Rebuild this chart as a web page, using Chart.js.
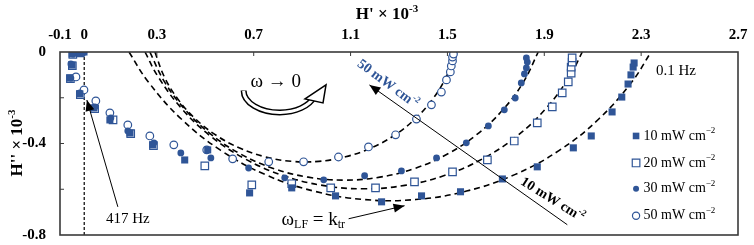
<!DOCTYPE html>
<html>
<head>
<meta charset="utf-8">
<script src="https://cdn.jsdelivr.net/npm/chart.js@4.4.1/dist/chart.umd.min.js"></script>
<style>
  html, body { margin: 0; padding: 0; background: #fff; }
  #wrap { width: 754px; height: 245px; }
</style>
</head>
<body>
<div id="wrap"><canvas id="chart"></canvas></div>
<script>
// tick values along both axes
const xTicks = [-0.1, 0, 0.3, 0.7, 1.1, 1.5, 1.9, 2.3, 2.7];
const yTicks = [0, -0.2, -0.4, -0.6, -0.8];
const yTickLabels = ['0', '', '-0.4', '', '-0.8'];

const seriesNames = ['10 mW cm', '20 mW cm', '30 mW cm', '50 mW cm'];

// measured points (H', H'') x 10^-3
const x10 = [-0.05, -0.018, -0.001, -0.05, -0.059, -0.018, 0.04, 0.106, 0.189, 0.283, 0.415, 0.51, 0.683, 0.857, 1.038, 1.228, 1.393, 1.554, 1.727, 1.871, 2.02, 2.094, 2.18, 2.22, 2.246, 2.258, 2.267, 2.271];
const y10 = [-0.009, -0.004, 0, -0.057, -0.114, -0.183, -0.245, -0.297, -0.354, -0.406, -0.472, -0.428, -0.616, -0.594, -0.629, -0.655, -0.629, -0.611, -0.555, -0.502, -0.419, -0.367, -0.262, -0.197, -0.14, -0.1, -0.066, -0.048];

const x20 = [-0.047, -0.016, -0.049, -0.057, -0.016, 0.043, 0.119, 0.192, 0.286, 0.498, 0.692, 0.857, 1.018, 1.203, 1.364, 1.521, 1.665, 1.776, 1.871, 1.933, 1.974, 1.999, 2.011, 2.011, 2.015, 2.015];
const y20 = [-0.011, -0.004, -0.06, -0.116, -0.186, -0.248, -0.297, -0.357, -0.409, -0.498, -0.581, -0.576, -0.594, -0.594, -0.568, -0.524, -0.472, -0.389, -0.31, -0.24, -0.179, -0.131, -0.092, -0.066, -0.044, -0.026];

const x30 = [-0.046, -0.009, -0.055, -0.055, -0.018, 0.044, 0.11, 0.18, 0.288, 0.399, 0.523, 0.679, 0.828, 0.989, 1.158, 1.31, 1.455, 1.578, 1.669, 1.735, 1.78, 1.805, 1.818, 1.826, 1.83, 1.826];
const y30 = [-0.009, 0, -0.052, -0.114, -0.179, -0.24, -0.288, -0.345, -0.397, -0.441, -0.463, -0.507, -0.55, -0.559, -0.541, -0.52, -0.463, -0.397, -0.323, -0.253, -0.201, -0.135, -0.096, -0.07, -0.044, -0.026];

const x50 = [-0.005, -0.034, -0.001, 0.048, 0.106, 0.18, 0.271, 0.37, 0.506, 0.613, 0.762, 0.906, 1.05, 1.174, 1.286, 1.372, 1.434, 1.475, 1.496, 1.512, 1.516, 1.521, 1.521, 1.525];
const y50 = [0, -0.109, -0.166, -0.214, -0.266, -0.319, -0.367, -0.406, -0.428, -0.467, -0.48, -0.48, -0.459, -0.415, -0.362, -0.293, -0.231, -0.175, -0.122, -0.087, -0.061, -0.039, -0.022, -0.009];

// dashed low-frequency arcs
const fitX10 = [0.185, 0.264, 0.401, 0.564, 0.748, 0.948, 1.157, 1.369, 1.579, 1.778, 1.962, 2.125, 2.262, 2.341];
const fitY10 = [0, -0.13, -0.293, -0.43, -0.536, -0.608, -0.645, -0.645, -0.608, -0.536, -0.43, -0.293, -0.13, 0];
const fitX20 = [0.251, 0.305, 0.403, 0.523, 0.664, 0.819, 0.984, 1.154, 1.324, 1.49, 1.645, 1.785, 1.906, 2.004, 2.057];
const fitY20 = [0, -0.108, -0.248, -0.369, -0.467, -0.539, -0.583, -0.598, -0.583, -0.539, -0.467, -0.369, -0.248, -0.108, 0];
const fitX30 = [0.271, 0.333, 0.419, 0.524, 0.646, 0.781, 0.925, 1.073, 1.221, 1.365, 1.5, 1.622, 1.727, 1.813, 1.875];
const fitY30 = [0, -0.133, -0.255, -0.36, -0.446, -0.509, -0.547, -0.56, -0.547, -0.509, -0.446, -0.36, -0.255, -0.133, 0];
const fitX50 = [0.292, 0.331, 0.387, 0.459, 0.545, 0.642, 0.747, 0.857, 0.969, 1.079, 1.184, 1.281, 1.367, 1.439, 1.495, 1.534];
const fitY50 = [0, -0.109, -0.206, -0.292, -0.364, -0.42, -0.458, -0.478, -0.478, -0.458, -0.42, -0.364, -0.292, -0.206, -0.109, 0];

const blue = '#2f5597';
const serif = "'Liberation Serif', 'Times New Roman', serif";

const pts = (xs, ys) => xs.map((x, i) => ({ x: x, y: ys[i] }));

const pointSets = [
  { label: seriesNames[0], data: pts(x10, y10), pointStyle: 'rect', pointRadius: 5, backgroundColor: blue, borderColor: blue, pointBorderWidth: 0, order: 1 },
  { label: seriesNames[1], data: pts(x20, y20), pointStyle: 'rect', pointRadius: 5.3, backgroundColor: '#fff', borderColor: blue, pointBorderWidth: 1.2, order: 4 },
  { label: seriesNames[2], data: pts(x30, y30), pointStyle: 'circle', pointRadius: 3.4, backgroundColor: blue, borderColor: blue, pointBorderWidth: 0, order: 2 },
  { label: seriesNames[3], data: pts(x50, y50), pointStyle: 'circle', pointRadius: 3.8, backgroundColor: '#fff', borderColor: blue, pointBorderWidth: 1.2, order: 3 }
];

const fitSets = [[fitX10, fitY10], [fitX20, fitY20], [fitX30, fitY30], [fitX50, fitY50]].map((f) => ({
  data: pts(f[0], f[1]),
  showLine: true,
  borderColor: '#000',
  borderWidth: 1.6,
  borderDash: [6, 4],
  pointRadius: 0,
  tension: 0.4,
  order: 10
}));

// text with a raised (or lowered) small part, left aligned, returns end x
function drawParts(ctx, x, y, parts) {
  parts.forEach((p) => {
    ctx.font = p.font;
    ctx.fillText(p.text, x, y + (p.dy || 0));
    x += ctx.measureText(p.text).width;
  });
  return x;
}
function partsWidth(ctx, parts) {
  let w = 0;
  parts.forEach((p) => { ctx.font = p.font; w += ctx.measureText(p.text).width; });
  return w;
}
function arrowHead(ctx, x1, y1, x2, y2, len, wid) {
  const a = Math.atan2(y2 - y1, x2 - x1);
  const c = Math.cos(a), s = Math.sin(a);
  ctx.beginPath();
  ctx.moveTo(x2, y2);
  ctx.lineTo(x2 - len * c + wid * s, y2 - len * s - wid * c);
  ctx.lineTo(x2 - len * c - wid * s, y2 - len * s + wid * c);
  ctx.closePath();
  ctx.fill();
}

const extras = {
  id: 'extras',
  beforeDatasetsDraw(chart) {
    const ctx = chart.ctx, area = chart.chartArea;
    const X = chart.scales.x;
    ctx.save();
    // dashed line at H' = 0
    ctx.strokeStyle = '#000';
    ctx.lineWidth = 1.2;
    ctx.setLineDash([3, 2]);
    ctx.beginPath();
    ctx.moveTo(X.getPixelForValue(0), area.top);
    ctx.lineTo(X.getPixelForValue(0), area.bottom);
    ctx.stroke();
    ctx.restore();
  },
  afterDraw(chart) {
    const ctx = chart.ctx, area = chart.chartArea;
    const X = chart.scales.x, Y = chart.scales.y;
    const px = (v) => X.getPixelForValue(v);
    const py = (v) => Y.getPixelForValue(v);
    ctx.save();

    // frame
    ctx.strokeStyle = '#3a3a3a';
    ctx.lineWidth = 1.6;
    ctx.strokeRect(area.left, area.top, area.right - area.left, area.bottom - area.top);
    ctx.lineWidth = 1;
    ctx.beginPath();
    xTicks.forEach((t) => {
      if (t <= X.min || t >= X.max || t === 0) return;
      ctx.moveTo(px(t), area.top);
      ctx.lineTo(px(t), area.top + 4);
    });
    yTicks.forEach((t) => {
      if (t <= Y.min || t >= Y.max) return;
      ctx.moveTo(area.left, py(t));
      ctx.lineTo(area.left + 4, py(t));
    });
    ctx.stroke();

    ctx.fillStyle = '#000';
    ctx.textBaseline = 'middle';
    ctx.textAlign = 'left';

    // axis titles
    const bold17 = 'bold 17px ' + serif, bold11 = 'bold 11px ' + serif;
    const xt = [{ text: "H' \u00d7 10", font: bold17 }, { text: '-3', font: bold11, dy: -6 }];
    drawParts(ctx, (area.left + area.right) / 2 - 12 - partsWidth(ctx, xt) / 2, 15, xt);
    const yt = [{ text: "H'' \u00d7 10", font: bold17 }, { text: '-3', font: bold11, dy: -6 }];
    ctx.save();
    ctx.translate(18, 143);
    ctx.rotate(-Math.PI / 2);
    drawParts(ctx, -partsWidth(ctx, yt) / 2, 0, yt);
    ctx.restore();

    // omega -> 0 with hollow curved arrow
    ctx.font = '19px ' + serif;
    ctx.textAlign = 'center';
    ctx.fillText('\u03c9 \u2192 0', px(0.791), py(-0.131));
    ctx.textAlign = 'left';
    const cx = px(0.807), cy = py(-0.168);
    ctx.lineCap = 'butt';
    ctx.strokeStyle = '#000';
    ctx.lineWidth = 6;
    ctx.beginPath();
    ctx.ellipse(cx, cy, 36, 22, 0, Math.PI, 0.3, true);
    ctx.stroke();
    ctx.strokeStyle = '#fff';
    ctx.lineWidth = 3;
    ctx.beginPath();
    ctx.ellipse(cx, cy, 36, 22, 0, Math.PI - 0.02, 0.28, true);
    ctx.stroke();
    // hollow head
    const hx = cx + 36 * Math.cos(0.3), hy = cy + 22 * Math.sin(0.3);
    ctx.beginPath();
    ctx.moveTo(hx - 9, hy + 2);
    ctx.lineTo(hx + 12, hy - 12);
    ctx.lineTo(hx + 9, hy + 6);
    ctx.closePath();
    ctx.fillStyle = '#fff';
    ctx.fill();
    ctx.strokeStyle = '#000';
    ctx.lineWidth = 1.5;
    ctx.stroke();
    ctx.fillStyle = '#000';

    // long arrow between 10 and 50 mW arcs
    const ax1 = px(1.995), ay1 = py(-0.755), ax2 = px(1.178), ay2 = py(-0.144);
    ctx.lineWidth = 1;
    ctx.beginPath();
    ctx.moveTo(ax1, ay1);
    ctx.lineTo(ax2, ay2);
    ctx.stroke();
    arrowHead(ctx, ax1, ay1, ax2, ay2, 11, 4.5);

    const b14 = 'bold 14px ' + serif, b9 = 'bold 9px ' + serif;
    const t50 = [{ text: '50 mW cm', font: b14 }, { text: '-2', font: b9, dy: -5 }];
    ctx.save();
    ctx.fillStyle = blue;
    ctx.translate(px(1.253), py(-0.14));
    ctx.rotate(0.64);
    drawParts(ctx, -partsWidth(ctx, t50) / 2, 0, t50);
    ctx.restore();
    const t10 = [{ text: '10 mW cm', font: b14 }, { text: '-2', font: b9, dy: -5 }];
    ctx.save();
    ctx.translate(px(1.933), py(-0.646));
    ctx.rotate(0.56);
    drawParts(ctx, -partsWidth(ctx, t10) / 2, 0, t10);
    ctx.restore();

    // frequency labels
    ctx.font = '15px ' + serif;
    ctx.textAlign = 'center';
    ctx.fillText('0.1 Hz', px(2.444), py(-0.083));
    ctx.fillText('417 Hz', px(0.18), py(-0.729));
    ctx.textAlign = 'left';
    const lx1 = px(0.139), ly1 = py(-0.677), lx2 = px(0.011), ly2 = py(-0.21);
    ctx.beginPath();
    ctx.moveTo(lx1, ly1);
    ctx.lineTo(lx2, ly2);
    ctx.stroke();
    arrowHead(ctx, lx1, ly1, lx2, ly2, 11, 4.5);

    // omega_LF = k_tr
    const r19 = '19px ' + serif, r11 = '12px ' + serif;
    drawParts(ctx, px(0.815), py(-0.734), [
      { text: '\u03c9', font: r19 }, { text: 'LF', font: r11, dy: 5 },
      { text: ' = k', font: r19 }, { text: 'tr', font: r11, dy: 5 }
    ]);
    const wx1 = px(1.092), wy1 = py(-0.729), wx2 = px(1.323), wy2 = py(-0.672);
    ctx.beginPath();
    ctx.moveTo(wx1, wy1);
    ctx.lineTo(wx2, wy2);
    ctx.stroke();
    arrowHead(ctx, wx1, wy1, wx2, wy2, 11, 4.5);

    // legend
    const rowsY = [-0.367, -0.485, -0.598, -0.716];
    const mx = px(2.279), tx = px(2.31);
    const r14 = '14px ' + serif, r9 = '9px ' + serif;
    pointSets.forEach((ds, i) => {
      const y = py(rowsY[i]);
      ctx.fillStyle = ds.backgroundColor;
      ctx.strokeStyle = ds.borderColor;
      ctx.lineWidth = 1.2;
      ctx.beginPath();
      if (ds.pointStyle === 'rect') {
        const s = i === 0 ? 3.3 : 3.8;
        ctx.rect(mx - s, y - s, 2 * s, 2 * s);
      } else {
        ctx.arc(mx, y, i === 2 ? 3 : 3.6, 0, Math.PI * 2);
      }
      ctx.fill();
      if (ds.pointBorderWidth) ctx.stroke();
      ctx.fillStyle = '#000';
      drawParts(ctx, tx, y, [{ text: ds.label, font: r14 }, { text: '\u22122', font: r9, dy: -5 }]);
    });
    ctx.restore();
  }
};

new Chart(document.getElementById('chart'), {
  type: 'scatter',
  data: { datasets: pointSets.concat(fitSets) },
  options: {
    responsive: true,
    maintainAspectRatio: false,
    animation: false,
    layout: { padding: { left: 0, right: 16, top: 0, bottom: 10 } },
    plugins: { legend: { display: false }, tooltip: { enabled: false } },
    scales: {
      x: {
        type: 'linear',
        position: 'top',
        min: -0.1,
        max: 2.7,
        afterBuildTicks: (s) => { s.ticks = xTicks.map((v) => ({ value: v })); },
        afterFit: (s) => { s.height = 52; s.paddingLeft = 0; s.paddingRight = 0; },
        grid: { display: false },
        border: { display: false },
        ticks: {
          padding: 0,
          color: '#000',
          font: { family: serif, size: 15, weight: 'bold' },
          callback: (v) => String(v)
        }
      },
      y: {
        type: 'linear',
        min: -0.8,
        max: 0,
        afterBuildTicks: (s) => { s.ticks = yTicks.map((v) => ({ value: v })); },
        afterFit: (s) => { s.width = 60; s.paddingTop = 0; s.paddingBottom = 0; },
        grid: { display: false },
        border: { display: false },
        ticks: {
          padding: 6,
          color: '#000',
          font: { family: serif, size: 15, weight: 'bold' },
          callback: (v, i) => yTickLabels[i]
        }
      }
    }
  },
  plugins: [extras]
});
</script>
</body>
</html>
